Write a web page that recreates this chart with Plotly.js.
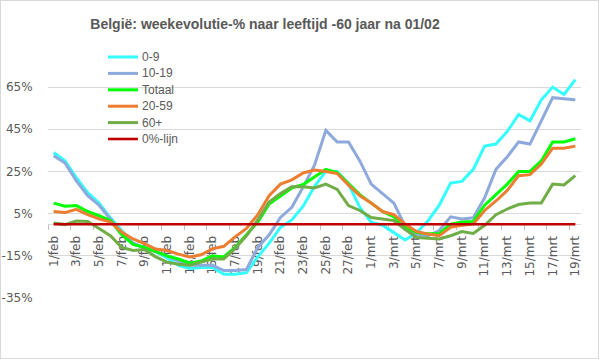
<!DOCTYPE html>
<html>
<head>
<meta charset="utf-8">
<script src="https://cdn.plot.ly/plotly-3.0.1.min.js"></script>
<style>
html,body{margin:0;padding:0;background:#fff;}
#wrap{position:relative;width:599px;height:359px;}
#chart{width:599px;height:359px;}
#frame{position:absolute;left:0;top:0;width:599px;height:359px;box-sizing:border-box;border:1px solid #d9d9d9;pointer-events:none;}
</style>
</head>
<body>
<div id="wrap"><div id="chart"></div><div id="frame"></div></div>
<script>
// Categories (daily, 1 Feb – 19 Mar)
const categories = ['1/feb','2/feb','3/feb','4/feb','5/feb','6/feb','7/feb','8/feb','9/feb','10/feb',
  '11/feb','12/feb','13/feb','14/feb','15/feb','16/feb','17/feb','18/feb','19/feb','20/feb',
  '21/feb','22/feb','23/feb','24/feb','25/feb','26/feb','27/feb','28/feb',
  '1/mrt','2/mrt','3/mrt','4/mrt','5/mrt','6/mrt','7/mrt','8/mrt','9/mrt','10/mrt',
  '11/mrt','12/mrt','13/mrt','14/mrt','15/mrt','16/mrt','17/mrt','18/mrt','19/mrt'];

const seriesNames = ['0-9','10-19','Totaal','20-59','60+','0%-lijn'];

const age0_9 = [34, 30, 22, 15, 10, 3, -3, -9, -11, -13, -16, -19.5, -21, -20.5, -20.5, -23.7, -23.7, -23, -15.5, -9,
  -1.5, 2, 8.5, 18, 25, 25, 19, 8, 1, -0.5, -4, -7.5, -4, 1.5, 9, 19.5, 20.3, 26, 37, 38,
  44, 52, 49, 59, 65, 61.5, 68.5];
const age10_19 = [32.5, 29, 20.5, 13.5, 9, 2.5, -4, -9, -11.5, -13, -15, -17.5, -19.5, -19.5, -19.5, -22, -22, -21.5, -11, -5,
  3.2, 8, 17.6, 28, 44.5, 39, 39, 30, 19, 14.5, 10, -1, -5, -5.5, -3, 3.5, 2.5, 3, 12.5, 26,
  32, 39, 38, 49, 60, 59.5, 59];
const totaal = [10, 8.5, 8.8, 6, 4, 1.7, -5, -9.6, -11, -13, -15, -16.5, -18.5, -17.5, -15, -15.5, -11, -5, 1, 9.6,
  13.6, 17.2, 18.8, 22.4, 26, 24.5, 19, 14, 10, 6, 3.5, -1.5, -4, -4.5, -4.5, 0, 1, 1.3, 9, 14,
  19, 25, 25, 30, 39, 39, 40.5];
const age20_59 = [6, 5.5, 7, 4.5, 2.5, 1, -3.7, -7, -9.2, -11.8, -12.5, -14.2, -15.5, -14.5, -11.7, -10.5, -6, -2, 4.5, 13.5,
  19, 21, 24.3, 25.7, 25, 24, 18.5, 13.5, 10, 6, 4.5, 0, -3.5, -4.7, -5.5, -1.5, -0.5, 0, 6.5, 11,
  16, 23, 23.5, 28.5, 36, 36, 37];
const age60plus = [0.6, -0.2, 1.5, 1.3, -2, -5.5, -11, -12.5, -12, -15.5, -18, -19, -19.5, -18, -16.5, -16.5, -11.5, -5.5, 2, 10.5,
  14.5, 17.8, 17.8, 17.2, 19, 16.5, 8.8, 6.5, 3.2, 2.5, 1.7, -2.5, -6.3, -6.7, -7, -5.5, -3.5, -4.4, -0.5, 4.5,
  7.2, 9.3, 10, 10, 19, 18.6, 23];
const nulLijn = categories.map(() => 0);

const colors = ['#33FFFF','#8EA9DB','#00FF00','#ED7D31','#70AD47','#C00000'];
const widths = [3, 3, 3, 3, 3, 2.6];
const yTicks = [-35, -15, 5, 25, 45, 65];

const allSeries = [age0_9, age10_19, totaal, age20_59, age60plus, nulLijn];
const xIdx = categories.map((_, i) => i);

const traces = allSeries.map((vals, k) => ({
  type: 'scatter', mode: 'lines', name: seriesNames[k],
  x: xIdx, y: vals,
  line: {color: colors[k], width: widths[k], shape: 'linear'},
  showlegend: false, hoverinfo: 'skip'
}));

// plot area in pixels
const L = 48, R = 581, T = 66, B = 298;
const px2x = p => (p - L) / (R - L);
const px2y = p => (B - p) / (B - T);

// custom legend
const shapes = [], annotations = [];
const legTop = 57, legStep = 16.4;
seriesNames.forEach((n, k) => {
  const yy = px2y(legTop + k * legStep);
  shapes.push({type: 'line', xref: 'paper', yref: 'paper', x0: px2x(108), x1: px2x(138), y0: yy, y1: yy,
    line: {color: colors[k], width: widths[k]}});
  annotations.push({xref: 'paper', yref: 'paper', x: px2x(140), y: yy, xanchor: 'left', yanchor: 'middle',
    text: n, showarrow: false, font: {family: 'Liberation Sans, Arial, sans-serif', size: 12, color: '#595959'}});
});

const evenIdx = xIdx.filter(i => i % 2 === 0);
const layout = {
  width: 599, height: 359,
  margin: {l: L, r: 599 - R, t: T, b: 359 - B, pad: 0},
  paper_bgcolor: '#fff', plot_bgcolor: '#fff',
  title: {text: '<b>België: weekevolutie-% naar leeftijd -60 jaar na 01/02</b>',
    x: 265 / 599, xanchor: 'center', xref: 'container', y: 1 - 24 / 359, yanchor: 'middle', yref: 'container',
    font: {family: 'Liberation Sans, Arial, sans-serif', size: 14, color: '#595959'}},
  xaxis: {
    range: [-0.5, categories.length - 0.5],
    tickmode: 'array', tickvals: evenIdx, ticktext: evenIdx.map(i => categories[i]),
    tickangle: -90, ticks: 'outside', ticklen: 6, tickcolor: 'rgba(0,0,0,0)',
    tickfont: {family: 'DejaVu Sans, sans-serif', size: 12, color: '#595959'},
    showgrid: false, zeroline: false,
    showline: true, linecolor: '#D9D9D9', linewidth: 1,
    anchor: 'free', position: 35 / 110, layer: 'below traces',
    minor: {tick0: -0.5, dtick: 2, ticks: 'outside', ticklen: 5, tickcolor: '#BFBFBF', tickwidth: 1, showgrid: false},
    fixedrange: true
  },
  yaxis: {
    range: [-35, 75],
    tickmode: 'array', tickvals: yTicks, ticktext: yTicks.map(v => v + '%'),
    ticks: 'outside', ticklen: 12, tickcolor: 'rgba(0,0,0,0)',
    tickfont: {family: 'DejaVu Sans, sans-serif', size: 12, color: '#595959'},
    showgrid: true, gridcolor: '#D9D9D9', gridwidth: 1,
    zeroline: false, showline: false, layer: 'below traces', fixedrange: true
  },
  shapes: shapes, annotations: annotations,
  showlegend: false
};

Plotly.newPlot('chart', traces, layout, {displayModeBar: false, staticPlot: true});
</script>
</body>
</html>
